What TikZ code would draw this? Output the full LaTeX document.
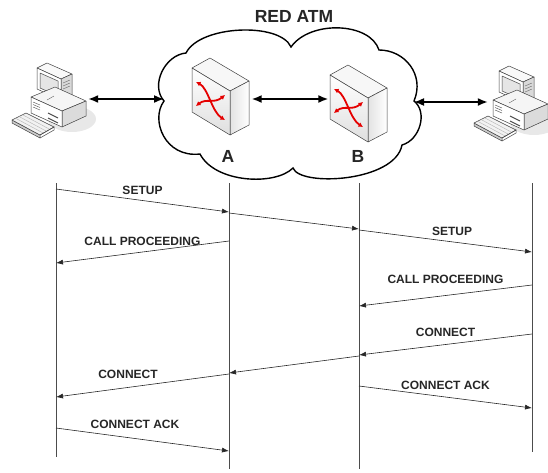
\documentclass[tikz,border=0pt]{standalone}
\usepackage{fontspec}
\setmainfont{Liberation Sans}
\usetikzlibrary{arrows.meta}

\tikzset{
  msg/.style={draw=black!85, line width=0.6pt, -{Latex[length=7pt,width=5pt]}},
  link/.style={draw=black, line width=1.6pt, {Latex[length=10pt,width=8pt]}-{Latex[length=10pt,width=8pt]}},
  lbl/.style={font=\bfseries\fontsize{12}{14}\selectfont, text=black!85, inner sep=0pt},
  big/.style={font=\bfseries\fontsize{17.5}{20}\selectfont, text=black!85, inner sep=0pt},
  lifeline/.style={draw=black!70, line width=0.8pt},
  icon/.style={draw=black!75, line width=0.5pt, line join=round},
  box/.style={inner sep=0pt, minimum height=78pt},
  redarrow/.style={draw=red!90!black, line width=1.8pt, {Latex[length=4.5pt,width=5pt]}-{Latex[length=4.5pt,width=5pt]}},
  % ATM switch, origin at the upper left corner of the front face
  pics/switch/.style={code={
    \begin{scope}[shift={(-29,-31)}]
      \filldraw[icon, fill=gray!6] (0,0) -- (18,-10) -- (57,13) -- (38,23) -- cycle;
      \shadedraw[icon, left color=gray!22, right color=white] (38,23) -- (57,13) -- (57,57) -- (38,67) -- cycle;
      \shadedraw[icon, top color=white, bottom color=gray!25] (0,0) -- (38,23) -- (38,67) -- (0,44) -- cycle;
      \draw[redarrow] (4,14) .. controls (16,20) and (20,44) .. (33,52);
      \draw[redarrow] (4,38) .. controls (14,30) and (22,36) .. (33,27);
    \end{scope}
  }},
  % desktop computer with keyboard
  pics/desktop/.style={code={
    \begin{scope}[shift={(-52,-99)}]
      \fill[gray!18] (72,119) ellipse [x radius=24, y radius=13];
      % monitor
      \filldraw[icon, fill=gray!5] (37,68) -- (47,63) -- (72,74) -- (61,79) -- cycle;
      \filldraw[icon, fill=gray!30] (61,79) -- (72,74) -- (72,95) -- (61,100) -- cycle;
      \foreach \v in {0,3,6}
        \draw[black!60] (63,83+\v) -- (70,80+\v);
      \filldraw[icon, fill=white] (37,68) -- (61,79) -- (61,100) -- (37,89) -- cycle;
      \filldraw[icon, fill=gray!20] (40,73) -- (58,81) -- (58,96) -- (40,88) -- cycle;
      % case
      \filldraw[icon, fill=gray!8] (31,97) -- (55,87) -- (86,101) -- (62,111) -- cycle;
      \filldraw[icon, fill=gray!28] (62,111) -- (86,101) -- (86,116) -- (62,127) -- cycle;
      \filldraw[icon, fill=white] (31,97) -- (62,111) -- (62,127) -- (31,113) -- cycle;
      \foreach \v in {0,2.5,5}
        \draw[black!70] (33,102+\v) -- (40,105+\v);
      \draw[black!70, line width=1pt] (48,113) -- (58,118);
      \draw[black!70, line width=1pt] (48,118) -- (58,123);
      \draw[black!60] (47,100) -- (54,96);
      % keyboard
      \filldraw[icon, fill=gray!40] (12,120) -- (40,135) -- (40,138) -- (12,123) -- cycle;
      \filldraw[icon, fill=gray!10] (12,120) -- (26,113) -- (54,127) -- (40,135) -- cycle;
      \draw[gray!60] (15.5,118.2) -- (43.5,133.2) (19,116.5) -- (47,131.5) (22.5,114.7) -- (50.5,129.7);
      \draw[black!75, line width=0.5pt] (40,135) -- (54,127) -- (54,130) -- (40,138);
    \end{scope}
  }},
}

\begin{document}
\begin{tikzpicture}[x=1pt, y=-1pt]
  \useasboundingbox (0,0) rectangle (548,472);

  \node[big] (title) at (294,16) {RED ATM};

  % ATM cloud
  \draw[line width=1.4pt, fill=white]
    (164,101) .. controls (150,85) and (165,55) .. (186,53)
    .. controls (200,25) and (280,22) .. (291,47)
    .. controls (310,20) and (370,22) .. (379,50)
    .. controls (405,50) and (425,75) .. (414,101)
    .. controls (428,112) and (420,140) .. (402,145)
    .. controls (395,182) and (300,187) .. (293,168)
    .. controls (275,186) and (215,183) .. (200,154)
    .. controls (165,158) and (150,120) .. (164,101) -- cycle;
  \coordinate (atmL) at (164,99);
  \coordinate (atmR) at (414,102);

  \node[box, minimum width=72pt] (pcL) at (52,99) {};
  \node[box, minimum width=52pt] (pcR) at (514,102) {};
  \node[box, minimum width=61pt] (swA) at (221,99) {};
  \node[box, minimum width=61pt] (swB) at (359,106) {};
  \pic at (pcL) {desktop};
  \pic at (pcR) {desktop};
  \pic at (swA) {switch};
  \pic at (swB) {switch};
  \node[big] (labA) at (228,156) {A};
  \node[big] (labB) at (358,156) {B};

  \draw[link] (pcL.east) -- (atmL);
  \draw[link] (swA.east) -- (swA.east -| swB.west);
  \draw[link] (atmR) -- (pcR.west);

  % lifelines
  \coordinate (l1) at (56,183);
  \coordinate (l2) at (229,183);
  \coordinate (l3) at (359,183);
  \coordinate (l4) at (532,183);
  \draw[lifeline] (l1) -- ++(0,274);
  \draw[lifeline] (l2) -- ++(0,286);
  \draw[lifeline] (l3) -- ++(0,286);
  \draw[lifeline] (l4) -- ++(0,269);

  % signalling messages
  \foreach \from/\to/\ya/\yb/\txt/\dx/\dy in {
      l1/l2/189/212/SETUP/0/10.5,
      l3/l4/230/252/SETUP/6.5/10,
      l2/l1/241/263/CALL PROCEEDING/0/11,
      l4/l3/285/306/CALL PROCEEDING/0/16.5,
      l4/l3/334/355/CONNECT/0/12.5,
      l2/l1/374/397/CONNECT/-14.5/11.5,
      l3/l4/386/408/CONNECT ACK/0/12,
      l1/l2/428/451/CONNECT ACK/-7.5/15.5}
    \draw[msg] (\from |- 0,\ya) -- (\to |- 0,\yb)
      node[lbl, midway, xshift=\dx pt, yshift=\dy pt] {\txt};
  \draw[msg] (l2 |- 0,213) -- (l3 |- 0,229);
  \draw[msg] (l3 |- 0,356) -- (l2 |- 0,373);
\end{tikzpicture}
\end{document}
